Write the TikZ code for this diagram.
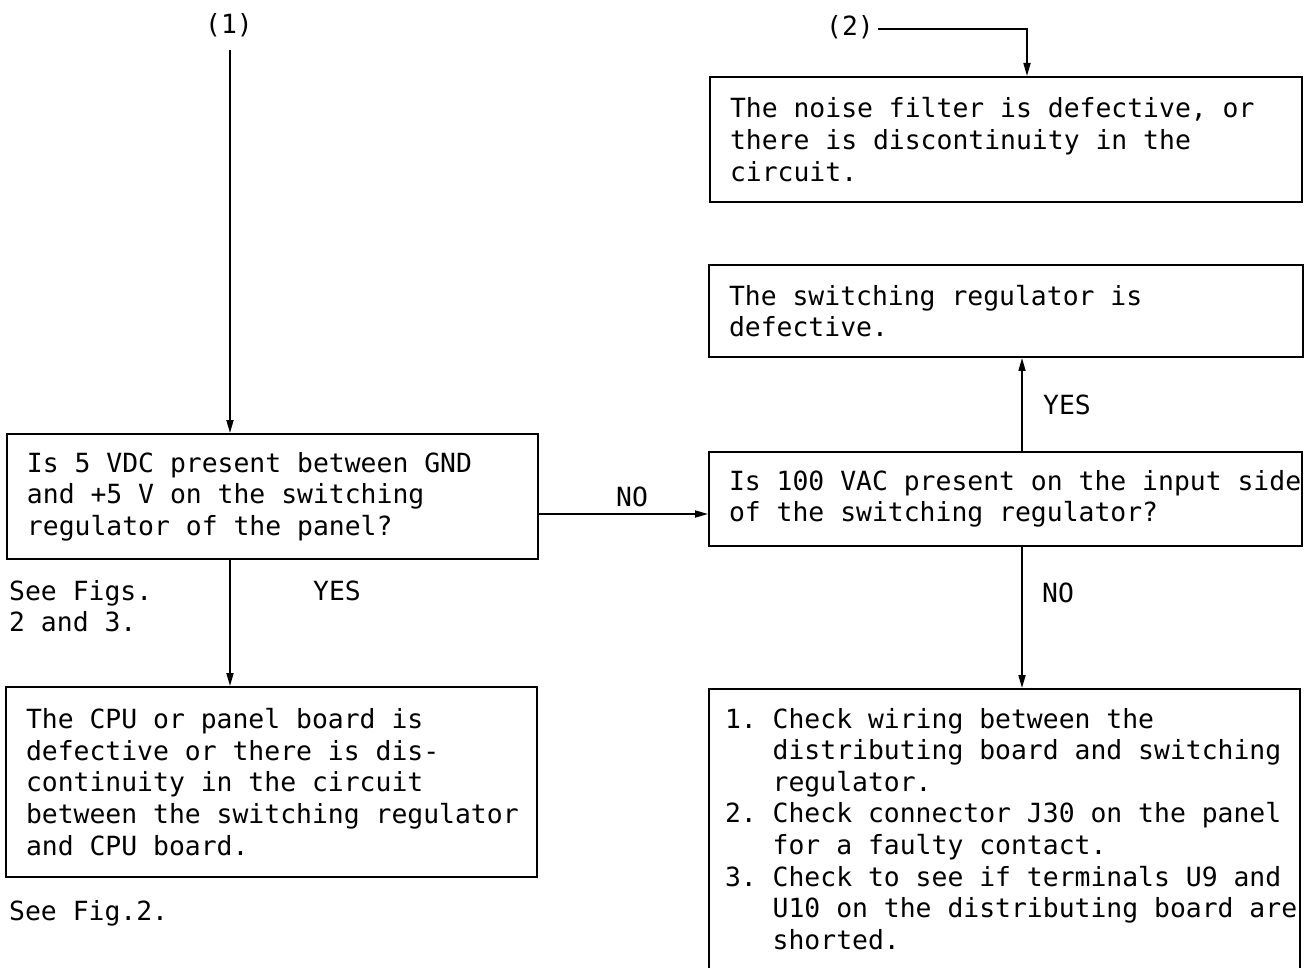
\documentclass[tikz,border=0pt]{standalone}
\usepackage{fontspec}
\setmainfont{DejaVu Sans Mono}
\usetikzlibrary{arrows.meta}
\newcommand\myln[1]{\mbox{\spaceskip=0pt\xspaceskip=0pt\frenchspacing #1}}
\newcommand\hang{\phantom{1.}\ }
\hfuzz=200pt
\hbadness=10000
\frenchspacing
\begin{document}
\begin{tikzpicture}[x=1pt,y=-1pt,
  every node/.style={font=\fontsize{26.4pt}{31.6pt}\selectfont},
  box/.style={draw, line width=2pt, align=left, inner xsep=20pt, inner ysep=0pt},
  lbl/.style={inner sep=0pt, anchor=base},
  note/.style={inner sep=0pt, align=left, anchor=north west},
  conn/.style={line width=1.7pt},
  arr/.style={conn, -{Triangle[length=13pt,width=7pt]}}]
\useasboundingbox (0,0) rectangle (1307,968);
\clip (0,0) rectangle (1307,968);
\fill[white] (0,0) rectangle (1307,968);

% boxes
\node[box, minimum width=592pt, minimum height=125pt, text width=552pt] (E) at (1006,139.5)
  {\myln{The noise filter is defective, or}\\\myln{there is discontinuity in the}\\\myln{circuit.}};
\node[box, minimum width=594pt, minimum height=92pt, text width=554pt] (D) at (1006,311)
  {\myln{The switching regulator is}\\\myln{defective.}};
\node[box, minimum width=531pt, minimum height=125pt, text width=491pt] (A) at (272.5,496.5)
  {\myln{Is 5 VDC present between GND}\\\myln{and +5 V on the switching}\\\myln{regulator of the panel?}};
\node[box, minimum width=593pt, minimum height=94pt, text width=553pt] (C) at (1005.5,499)
  {\myln{Is 100 VAC present on the input side}\\\myln{of the switching regulator?}};
\node[box, minimum width=531pt, minimum height=190pt, text width=491pt] (B) at (271.5,782)
  {\myln{The CPU or panel board is}\\\myln{defective or there is dis-}\\\myln{continuity in the circuit}\\\myln{between the switching regulator}\\\myln{and CPU board.}};
\node[box, inner xsep=16pt, inner ysep=19pt, minimum width=591pt, text width=559pt, anchor=north] (F) at (1004.5,688)
  {\myln{\rule{0pt}{20pt}1. Check wiring between the}\\
   \myln{\hang distributing board and switching}\\
   \myln{\hang regulator.}\\
   \myln{2. Check connector J30 on the panel}\\
   \myln{\hang for a faulty contact.}\\
   \myln{3. Check to see if terminals U9 and}\\
   \myln{\hang U10 on the distributing board are}\\
   \myln{\hang shorted.\rule[-30pt]{0pt}{0pt}}};

% labels
\node[lbl] (P1) at (229,34) {(1)};
\node[lbl] (P2) at (850,36) {(2)};
\node[lbl] (yesL) at (337,600) {YES};
\node[lbl] (noM) at (632,506) {NO};
\node[lbl] (yesR) at (1067,414) {YES};
\node[lbl] (noR) at (1058,602) {NO};
\node[note] (seeA) at (9,578) {\rule{0pt}{22pt}\myln{See Figs.}\\\myln{2 and 3.}};
\node[lbl, anchor=base west] (seeB) at (9,920) {See Fig.2.};

% connectors
\coordinate (c1) at (230,50);
\draw[arr] (c1) -- (c1 |- A.north);
\draw[arr] (c1 |- A.south) -- (c1 |- B.north);
\coordinate (cno) at (600,514);
\draw[arr] (cno -| A.east) -- (cno -| C.west);
\coordinate (cr) at (1022,400);
\draw[arr] (cr |- C.north) -- (cr |- D.south);
\draw[arr] (cr |- C.south) -- (cr |- F.north);
\coordinate (c2b) at (1027,29);
\draw[arr] ([xshift=4pt]P2.east |- c2b) -- (c2b) -- (c2b |- E.north);
\end{tikzpicture}
\end{document}
